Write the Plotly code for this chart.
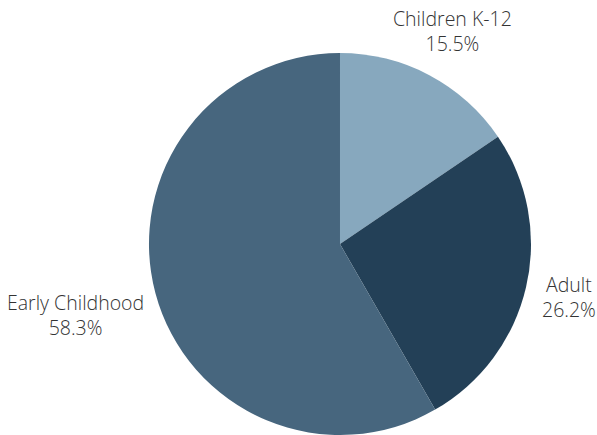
import math
import plotly.graph_objects as go

labels = ["Children K-12", "Adult", "Early Childhood"]
values = [15.5, 26.2, 58.3]
colors = ["#87A8BE", "#234057", "#47667E"]

W, H = 597, 435
dom_x = [0.2494, 0.8896]
dom_y = [0.0, 0.8782]
# radial distance of each label centre beyond the pie edge (px)
label_gap = [50, 44, 83]

fig = go.Figure(go.Pie(
    labels=labels,
    values=values,
    sort=False,
    direction="clockwise",
    rotation=0,
    automargin=False,
    domain=dict(x=dom_x, y=dom_y),
    marker=dict(colors=colors, line=dict(width=0)),
    textinfo="none",
    showlegend=False,
    hoverinfo="label+percent",
))

# label placement derived from the pie geometry and the data
cx = (dom_x[0] + dom_x[1]) / 2
cy = (dom_y[0] + dom_y[1]) / 2
r = min(W * (dom_x[1] - dom_x[0]), H * (dom_y[1] - dom_y[0])) / 2
total = sum(values)
cum = 0.0
for lab, v, g in zip(labels, values, label_gap):
    theta = 2 * math.pi * (cum + v / 2) / total
    cum += v
    R = r + g
    dx = R * math.sin(theta)
    dy = -R * math.cos(theta)
    fig.add_annotation(
        x=cx + dx / W, y=cy - dy / H, xref="paper", yref="paper",
        text=f"{lab}<br>{v / total * 100:.1f}%",
        showarrow=False, xanchor="center", yanchor="middle", align="center",
        font=dict(family="Open Sans", size=19.5, color="#333333", weight=300),
    )

fig.update_layout(
    width=W, height=H,
    margin=dict(l=0, r=0, t=0, b=0),
    paper_bgcolor="white",
    plot_bgcolor="white",
)
fig.write_html("out.html", config={"displayModeBar": False},
               post_script="document.body.style.margin='0';")
